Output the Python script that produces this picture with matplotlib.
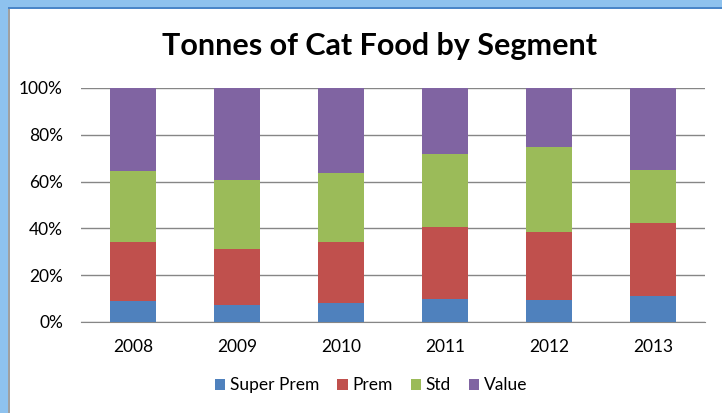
import numpy as np
import matplotlib
matplotlib.use("Agg")
import matplotlib.pyplot as plt
from matplotlib.patches import Rectangle

# ---- Data (percent share per year) ----
years = ['2008', '2009', '2010', '2011', '2012', '2013']
super_prem = [9.0, 7.4, 8.0, 10.0, 9.4, 10.9]
prem = [25.0, 23.7, 26.0, 30.7, 29.0, 31.2]
std = [30.6, 29.6, 29.6, 31.2, 36.6, 22.9]
value = [35.4, 39.3, 36.4, 28.1, 25.0, 35.0]

series = [('Super Prem', super_prem, '#4F81BD'),
          ('Prem', prem, '#C0504D'),
          ('Std', std, '#9BBB59'),
          ('Value', value, '#8064A2')]

plt.rcParams['font.family'] = ['Lato', 'DejaVu Sans']

fig = plt.figure(figsize=(7.22, 4.13), dpi=100)
W, H = 722, 413

# ---- window-like frame ----
fig.patches.append(Rectangle((0, 1 - 9 / H), 1, 9 / H, transform=fig.transFigure,
                             facecolor='#8EC2EE', edgecolor='none', zorder=0))
fig.patches.append(Rectangle((0, 1 - 9 / H), 1, 1.5 / H, transform=fig.transFigure,
                             facecolor='#4A86C8', edgecolor='none', zorder=0))
fig.patches.append(Rectangle((0, 0), 8 / W, 1, transform=fig.transFigure,
                             facecolor='#8EC2EE', edgecolor='none', zorder=0))
fig.patches.append(Rectangle((8 / W, 0), 1.5 / W, 1 - 9 / H, transform=fig.transFigure,
                             facecolor='#A0A0A0', edgecolor='none', zorder=0))

ax = fig.add_axes([81 / W, 1 - 322 / H, (705 - 81) / W, (322 - 88) / H])

x = np.arange(len(years))
bottom = np.zeros(len(years))
for name, vals, col in series:
    ax.bar(x, vals, width=0.45, bottom=bottom, color=col, label=name, zorder=3)
    bottom += np.array(vals)

ax.set_xlim(-0.5, len(years) - 0.5)
ax.set_ylim(0, 100)
ax.set_yticks(np.arange(0, 101, 20))
ax.set_yticklabels([f'{v}%' for v in range(0, 101, 20)], fontsize=12.5)
ax.set_xticks(x)
ax.set_xticklabels(years, fontsize=12.5)
ax.tick_params(length=0, colors='black')
ax.tick_params(axis='y', pad=13)
ax.tick_params(axis='x', pad=12)
ax.grid(axis='y', color='#868686', linewidth=1, zorder=0)
for s in ['top', 'right', 'left']:
    ax.spines[s].set_visible(False)
ax.spines['bottom'].set_color('#868686')

fig.text(0.526, 1 - 46 / H, 'Tonnes of Cat Food by Segment', ha='center', va='center',
         fontsize=22, fontweight='bold')

ax.legend(loc='center', bbox_to_anchor=(0.465, -0.27), ncol=4, frameon=False,
          fontsize=12.5, handlelength=0.6, handleheight=0.6, handletextpad=0.25,
          columnspacing=1.05)

plt.savefig('out.png', dpi=100)
